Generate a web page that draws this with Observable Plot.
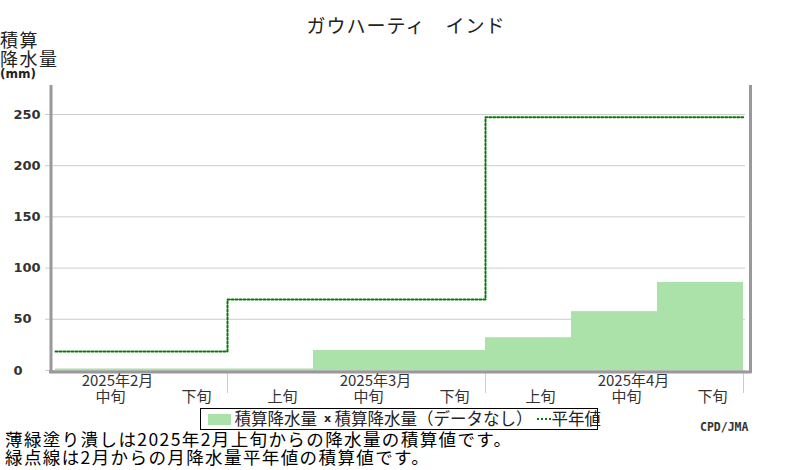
<!DOCTYPE html>
<html><head><meta charset="utf-8">
<script src="https://cdn.jsdelivr.net/npm/d3@7"></script>
<script src="https://cdn.jsdelivr.net/npm/@observablehq/plot@0.6"></script>
<style>
body{margin:0;background:#fff;}
#wrap{position:relative;width:800px;height:470px;overflow:hidden;font-family:"Noto Sans CJK JP",sans-serif;color:#222;}
#title{position:absolute;left:0;width:812px;top:13px;height:24px;line-height:24px;text-align:center;font-size:19px;letter-spacing:1px;}
#ylab{position:absolute;left:0;top:30px;font-size:18px;letter-spacing:1.5px;line-height:19px;}
#yunit{position:absolute;left:0;top:68px;font-family:"DejaVu Sans";font-weight:bold;font-size:12px;line-height:12px;}
#chart{position:absolute;left:0;top:80px;}
#legend{position:absolute;left:200px;top:408px;width:398px;height:22px;box-sizing:border-box;border:1.5px solid #000;background:#fff;}
#legend span{position:absolute;top:0;height:19px;line-height:19px;font-size:16.5px;white-space:nowrap;}
#legend .sw{top:4.5px;left:6.5px;width:23px;height:11px;background:#aae2aa;}
#legend .xm{font-family:"DejaVu Sans";font-weight:bold;font-size:11px;}
#legend svg{position:absolute;left:335.5px;top:8px;}
#cpd{position:absolute;left:700px;top:420px;font-family:"DejaVu Sans Mono";font-weight:bold;font-size:11.5px;line-height:14px;color:#333;}
#note{position:absolute;left:5px;top:430px;font-size:17.5px;letter-spacing:1.4px;line-height:17.5px;color:#000;white-space:nowrap;}
</style></head><body>
<div id="wrap">
  <div id="title">ガウハーティ　インド</div>
  <div id="ylab">積算<br>降水量</div>
  <div id="yunit">(mm)</div>
  <div id="chart"></div>
  <div id="legend">
    <span class="sw"></span>
    <span style="left:33.5px">積算降水量</span>
    <span class="xm" style="left:123px">x</span>
    <span style="left:133.5px">積算降水量（データなし）</span>
    <svg width="14" height="4"><line x1="0" y1="2" x2="14" y2="2" stroke="#008000" stroke-width="2" stroke-dasharray="2,2"/></svg>
    <span style="left:350.5px">平年値</span>
  </div>
  <div id="cpd">CPD/JMA</div>
  <div id="note">薄緑塗り潰しは2025年2月上旬からの降水量の積算値です。<br>緑点線は2月からの月降水量平年値の積算値です。</div>
</div>
<script>
const months = ["2025年2月", "2025年3月", "2025年4月"];
const monthDekadCounts = [2, 3, 3];
const dekadLabels = ["中旬", "下旬", "上旬", "中旬", "下旬", "上旬", "中旬", "下旬"];
const precipCum = [1.5, 1.5, 1.5, 19.5, 19.5, 32, 57.5, 86];
const normalCum = [18.6, 69.3, 247.4];
const yTicks = [0, 50, 100, 150, 200, 250];

// derived tables
const monthStarts = [];
{ let s = 0; for (const c of monthDekadCounts) { monthStarts.push(s); s += c; } }
const nDekads = dekadLabels.length;
const monthEnds = monthStarts.slice(1).concat([nDekads]);
const bars = precipCum.map((v, i) => ({x1: i, x2: i + 1, v}));
const dekads = dekadLabels.map((label, i) => ({xc: i + 0.5, label}));
const monthLabels = months.map((m, k) => {
  let idx = monthStarts[k];
  for (let i = monthStarts[k]; i < monthStarts[k] + monthDekadCounts[k]; i++) if (dekadLabels[i] === "中旬") idx = i;
  return {xc: idx + 0.5, label: m};
});
const normalPts = normalCum.map((v, k) => ({x: monthStarts[k], y: v}));
normalPts.push({x: nDekads, y: normalCum[normalCum.length - 1]});

const jp = "Noto Sans CJK JP";
const plot = Plot.plot({
  width: 800, height: 325,
  marginLeft: 55, marginRight: 57, marginTop: 5, marginBottom: 35,
  x: {domain: [0, nDekads], axis: null},
  y: {domain: [0, 278.3], axis: null},
  style: {background: "transparent", overflow: "visible"},
  marks: [
    Plot.ruleY(yTicks, {stroke: "#cccccc", insetLeft: -10, insetRight: -2}),
    Plot.rectY(bars, {x1: "x1", x2: "x2", y: "v", fill: "#aae2aa"}),
    Plot.line(normalPts, {x: "x", y: "y", curve: "step-after", stroke: "#008000", strokeWidth: 2, strokeDasharray: "2,2"}),
    Plot.axisX(monthEnds, {tickSize: 23, tickFormat: () => "", stroke: "#cccccc"}),
    Plot.ruleX([0], {stroke: "#999999", strokeWidth: 3, dx: -4.5, insetBottom: -3}),
    Plot.ruleX([nDekads], {stroke: "#999999", strokeWidth: 3, dx: 7, insetBottom: -3}),
    Plot.ruleY([0], {stroke: "#999999", strokeWidth: 3, dy: 1.5, insetLeft: -6, insetRight: -8.5}),
    Plot.text(yTicks, {y: d => d, text: d => String(d), frameAnchor: "left", textAnchor: "start", lineAnchor: "middle", dx: -42, fontSize: 13, fontWeight: "bold", fontFamily: "DejaVu Sans", fill: "#333"}),
    Plot.text(monthLabels, {x: "xc", text: "label", frameAnchor: "bottom", lineAnchor: "middle", dx: 19, dy: 11, fontSize: 15, fontFamily: jp, fill: "#333"}),
    Plot.text(dekads, {x: "xc", text: "label", frameAnchor: "bottom", lineAnchor: "middle", dx: 12, dy: 27, fontSize: 15, fontFamily: jp, fill: "#333"})
  ]
});
document.getElementById("chart").appendChild(plot);
</script>
</body></html>
